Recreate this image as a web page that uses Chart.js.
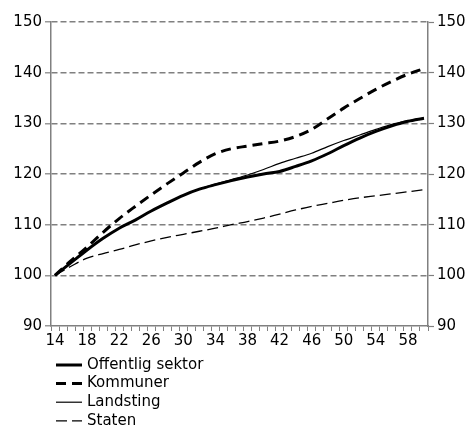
<!DOCTYPE html>
<html>
<head>
<meta charset="utf-8">
<script src="https://cdn.jsdelivr.net/npm/chart.js@4.4.1/dist/chart.umd.min.js"></script>
<style>
  html, body { margin: 0; padding: 0; background: #fff; }
</style>
</head>
<body>
<canvas id="chart" width="471" height="428"></canvas>
<script>
// kategorier på x-axeln (ett streck per värde)
const categories = [14, 15, 16, 17, 18, 19, 20, 21, 22, 23, 24, 25, 26, 27, 28, 29, 30, 31, 32, 33, 34, 35, 36, 37,
  38, 39, 40, 41, 42, 43, 44, 45, 46, 47, 48, 49, 50, 51, 52, 53, 54, 55, 56, 57, 58, 59, 60];
const tickLabels = [14, 18, 22, 26, 30, 34, 38, 42, 46, 50, 54, 58];
const sampleX = [14, 16, 18, 20, 22, 24, 26, 28, 30, 32, 34, 36, 38, 40, 42, 44, 46, 48, 50, 52, 54, 56, 58, 60];

// avlästa värden (index)
const offentlig = [100, 102.5, 105, 107.3, 109.3, 110.9, 112.7, 114.3, 115.8, 117, 117.9, 118.7, 119.4, 120, 120.5, 121.5, 122.6, 124, 125.6, 127.1, 128.4, 129.5, 130.4, 131];
const kommuner = [100, 102.9, 105.6, 108.5, 111.2, 113.6, 115.9, 118.1, 120.2, 122.3, 124, 125, 125.5, 126, 126.5, 127.4, 128.8, 130.9, 133, 134.9, 136.7, 138.3, 139.7, 140.8];
const landsting = [100, 102.5, 105, 107.3, 109.3, 110.9, 112.7, 114.3, 115.8, 117, 118, 118.9, 119.8, 120.9, 122.1, 123.1, 124.1, 125.4, 126.6, 127.7, 128.8, 129.8, 130.5, 131.1];
const staten = [100, 101.8, 103.4, 104.3, 105.1, 106, 106.8, 107.5, 108.1, 108.7, 109.3, 110, 110.6, 111.3, 112.1, 112.9, 113.6, 114.2, 114.8, 115.3, 115.7, 116.1, 116.5, 116.9];

const yMin = 90, yMax = 150, yStep = 10;
const gray = "#808080";
const font = { family: "DejaVu Sans", size: 15 };

// lägger värdena på rätt kategori, resten null
function toSeries(vals) {
  const out = categories.map(() => null);
  sampleX.forEach((x, i) => { out[categories.indexOf(x)] = vals[i]; });
  return out;
}

const lineDefaults = {
  borderColor: "#000",
  pointRadius: 0,
  fill: false,
  spanGaps: true,
  cubicInterpolationMode: "monotone",
};

// egen legend under diagrammet
const legendPlugin = {
  id: "listLegend",
  afterDraw(chart) {
    const ctx = chart.ctx;
    ctx.save();
    ctx.font = font.size + "px " + font.family;
    ctx.textBaseline = "middle";
    ctx.fillStyle = "#000";
    chart.data.datasets.forEach((ds, i) => {
      const y = 365 + i * 18.6;
      ctx.beginPath();
      ctx.lineWidth = ds.borderWidth;
      ctx.strokeStyle = "#000";
      ctx.setLineDash(ds.borderDash || []);
      ctx.moveTo(56, y);
      ctx.lineTo(82, y);
      ctx.stroke();
      ctx.setLineDash([]);
      ctx.fillText(ds.label, 87, y);
    });
    ctx.restore();
  },
};

new Chart(document.getElementById("chart"), {
  type: "line",
  data: {
    labels: categories,
    datasets: [
      { ...lineDefaults, label: "Offentlig sektor", data: toSeries(offentlig), borderWidth: 3 },
      { ...lineDefaults, label: "Kommuner", data: toSeries(kommuner), borderWidth: 3, borderDash: [10, 6] },
      { ...lineDefaults, label: "Landsting", data: toSeries(landsting), borderWidth: 1.2 },
      { ...lineDefaults, label: "Staten", data: toSeries(staten), borderWidth: 1.3, borderDash: [11, 5] },
    ],
  },
  options: {
    responsive: false,
    devicePixelRatio: 1,
    animation: false,
    layout: { padding: { top: 22, left: 0, right: 0, bottom: 0 } },
    plugins: { legend: { display: false }, tooltip: { enabled: false } },
    scales: {
      x: {
        type: "category",
        offset: true,
        grid: { offset: true, drawOnChartArea: false, drawTicks: true, tickLength: 5, color: gray, lineWidth: 1 },
        border: { display: true, color: gray, width: 1.5 },
        ticks: {
          autoSkip: false,
          maxRotation: 0,
          padding: 1,
          color: "#000",
          font: font,
          callback: function (value) {
            const lab = categories[value];
            return tickLabels.includes(lab) ? String(lab) : "";
          },
        },
        afterFit: (scale) => { scale.height = 102; },
      },
      y: {
        position: "left",
        min: yMin,
        max: yMax,
        grid: {
          color: (c) => (c.tick && c.tick.value === yMin ? "rgba(0,0,0,0)" : gray),
          lineWidth: 1.6,
          drawTicks: true,
          tickLength: 6,
          tickColor: gray,
          tickWidth: 1.2,
        },
        border: { display: true, color: gray, width: 1.5, dash: [6, 3] },
        ticks: { stepSize: yStep, padding: 3, color: "#000", font: font },
        afterFit: (scale) => { scale.width = 51; },
      },
      y2: {
        position: "right",
        min: yMin,
        max: yMax,
        grid: { drawOnChartArea: false, drawTicks: true, tickLength: 6, tickColor: gray, tickWidth: 1.2 },
        border: { display: true, color: gray, width: 1.5 },
        ticks: { stepSize: yStep, padding: 3, color: "#000", font: font },
        afterFit: (scale) => { scale.width = 43; },
      },
    },
  },
  plugins: [legendPlugin],
});
</script>
</body>
</html>
